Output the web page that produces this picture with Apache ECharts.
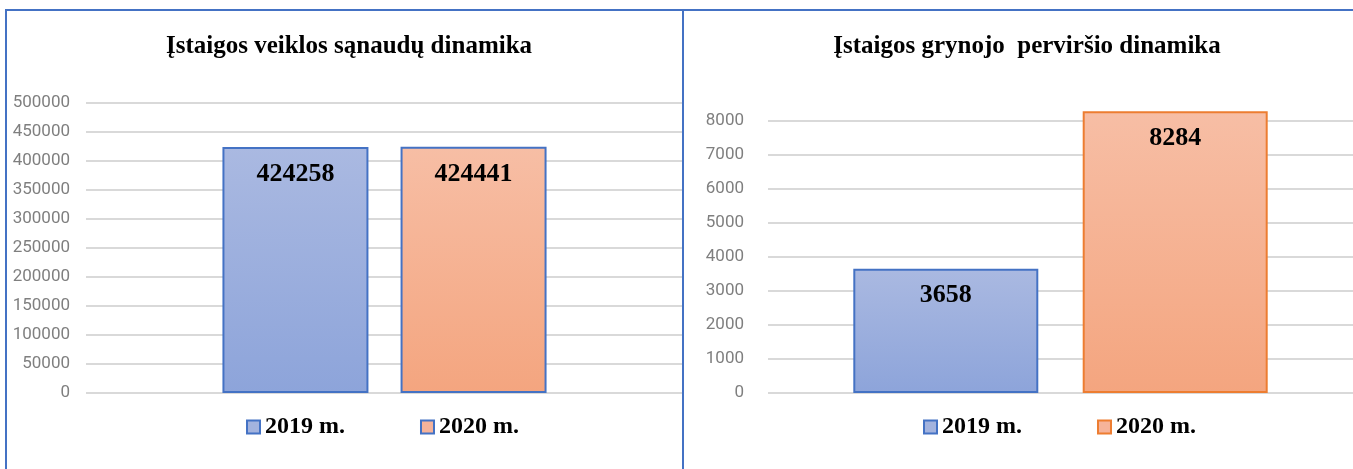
<!DOCTYPE html>
<html>
<head>
<meta charset="utf-8">
<script src="https://cdn.jsdelivr.net/npm/echarts@6/dist/echarts.min.js"></script>
<style>
html,body{margin:0;padding:0;background:#fff;}
#chart{width:1353px;height:469px;}
</style>
</head>
<body>
<div id="chart"></div>
<script>
const seriesNames = ['2019 m.', '2020 m.'];
const leftTitle = 'Įstaigos veiklos sąnaudų dinamika';
const rightTitle = 'Įstaigos grynojo  perviršio dinamika';
const leftValues = [424258, 424441];
const rightValues = [3658, 8284];
const leftTicks = { min: 0, max: 500000, interval: 50000 };
const rightTicks = { min: 0, max: 8000, interval: 1000 };

const BLUE = '#4472C4';
const ORANGE = '#ED7D31';
const blueFill = { type: 'linear', x: 0, y: 0, x2: 0, y2: 1, colorStops: [{offset: 0, color: '#AAB9E1'}, {offset: 1, color: '#8DA4DA'}] };
const orangeFill = { type: 'linear', x: 0, y: 0, x2: 0, y2: 1, colorStops: [{offset: 0, color: '#F7BEA5'}, {offset: 1, color: '#F4A57F'}] };

const serif = '"Liberation Serif", "DejaVu Serif", serif';
const axisFont = 'Roboto, "Liberation Sans", sans-serif';

function yAxis(idx, t) {
  return {
    type: 'value', gridIndex: idx, min: t.min, max: t.max, interval: t.interval,
    axisLine: { show: false }, axisTick: { show: false },
    axisLabel: { color: '#7F7F7F', fontSize: 17, fontFamily: axisFont, margin: idx === 0 ? 16 : 24, formatter: v => String(v) },
    splitLine: { lineStyle: { color: '#D9D9D9', width: 2 } }
  };
}
function xAxis(idx) {
  return { type: 'category', gridIndex: idx, data: [''], axisLine: { show: false }, axisTick: { show: false }, axisLabel: { show: false } };
}
function bar(name, idx, value, fill, border, width, gap) {
  return {
    type: 'bar', name: name, xAxisIndex: idx, yAxisIndex: idx, data: [value],
    barWidth: width, barGap: gap, clip: false,
    itemStyle: { color: fill, borderColor: border, borderWidth: 2 },
    label: { show: true, position: 'insideTop', distance: 14, color: '#000', fontFamily: serif, fontWeight: 'bold', fontSize: 26 }
  };
}
function legend(left, gap, colors) {
  return {
    left: left, top: 410, itemWidth: 13, itemHeight: 13, itemGap: gap, icon: 'rect',
    textStyle: { fontFamily: serif, fontWeight: 'bold', fontSize: 24, color: '#000' },
    data: seriesNames.map((n, i) => ({ name: n, itemStyle: { color: colors[i][0], borderColor: colors[i][1], borderWidth: 2 } })),
    selectedMode: false
  };
}

const chart = echarts.init(document.getElementById('chart'), null, { renderer: 'canvas' });
chart.setOption({
  backgroundColor: '#fff',
  animation: false,
  title: [
    { text: leftTitle, left: 344, top: 29, textAlign: 'center', textStyle: { fontFamily: serif, fontWeight: 'bold', fontSize: 25, color: '#000' } },
    { text: rightTitle, left: 1022, top: 29, textAlign: 'center', textStyle: { fontFamily: serif, fontWeight: 'bold', fontSize: 25, color: '#000' } }
  ],
  legend: [
    legend(241, 75, [['#A3B3DE', BLUE], ['#F6B39A', BLUE]]),
    legend(918, 75, [['#A3B3DE', BLUE], ['#F6B39A', ORANGE]])
  ],
  grid: [
    { left: 86, right: 670, top: 103, bottom: 76 },
    { left: 768, right: -14, top: 121, bottom: 76 }
  ],
  xAxis: [xAxis(0), xAxis(1)],
  yAxis: [yAxis(0, leftTicks), yAxis(1, rightTicks)],
  series: [
    bar(seriesNames[0], 0, leftValues[0], blueFill, BLUE, 146, '22%'),
    bar(seriesNames[1], 0, leftValues[1], orangeFill, BLUE, 146, '22%'),
    bar(seriesNames[0], 1, rightValues[0], blueFill, BLUE, 185, '24%'),
    bar(seriesNames[1], 1, rightValues[1], orangeFill, ORANGE, 185, '24%')
  ],
  graphic: [
    { type: 'line', z: 100, shape: { x1: 5, y1: 10, x2: 1353, y2: 10 }, style: { stroke: BLUE, lineWidth: 2 } },
    { type: 'line', z: 100, shape: { x1: 6, y1: 10, x2: 6, y2: 469 }, style: { stroke: BLUE, lineWidth: 2 } },
    { type: 'line', z: 100, shape: { x1: 683, y1: 10, x2: 683, y2: 469 }, style: { stroke: BLUE, lineWidth: 2 } }
  ]
});
</script>
</body>
</html>
